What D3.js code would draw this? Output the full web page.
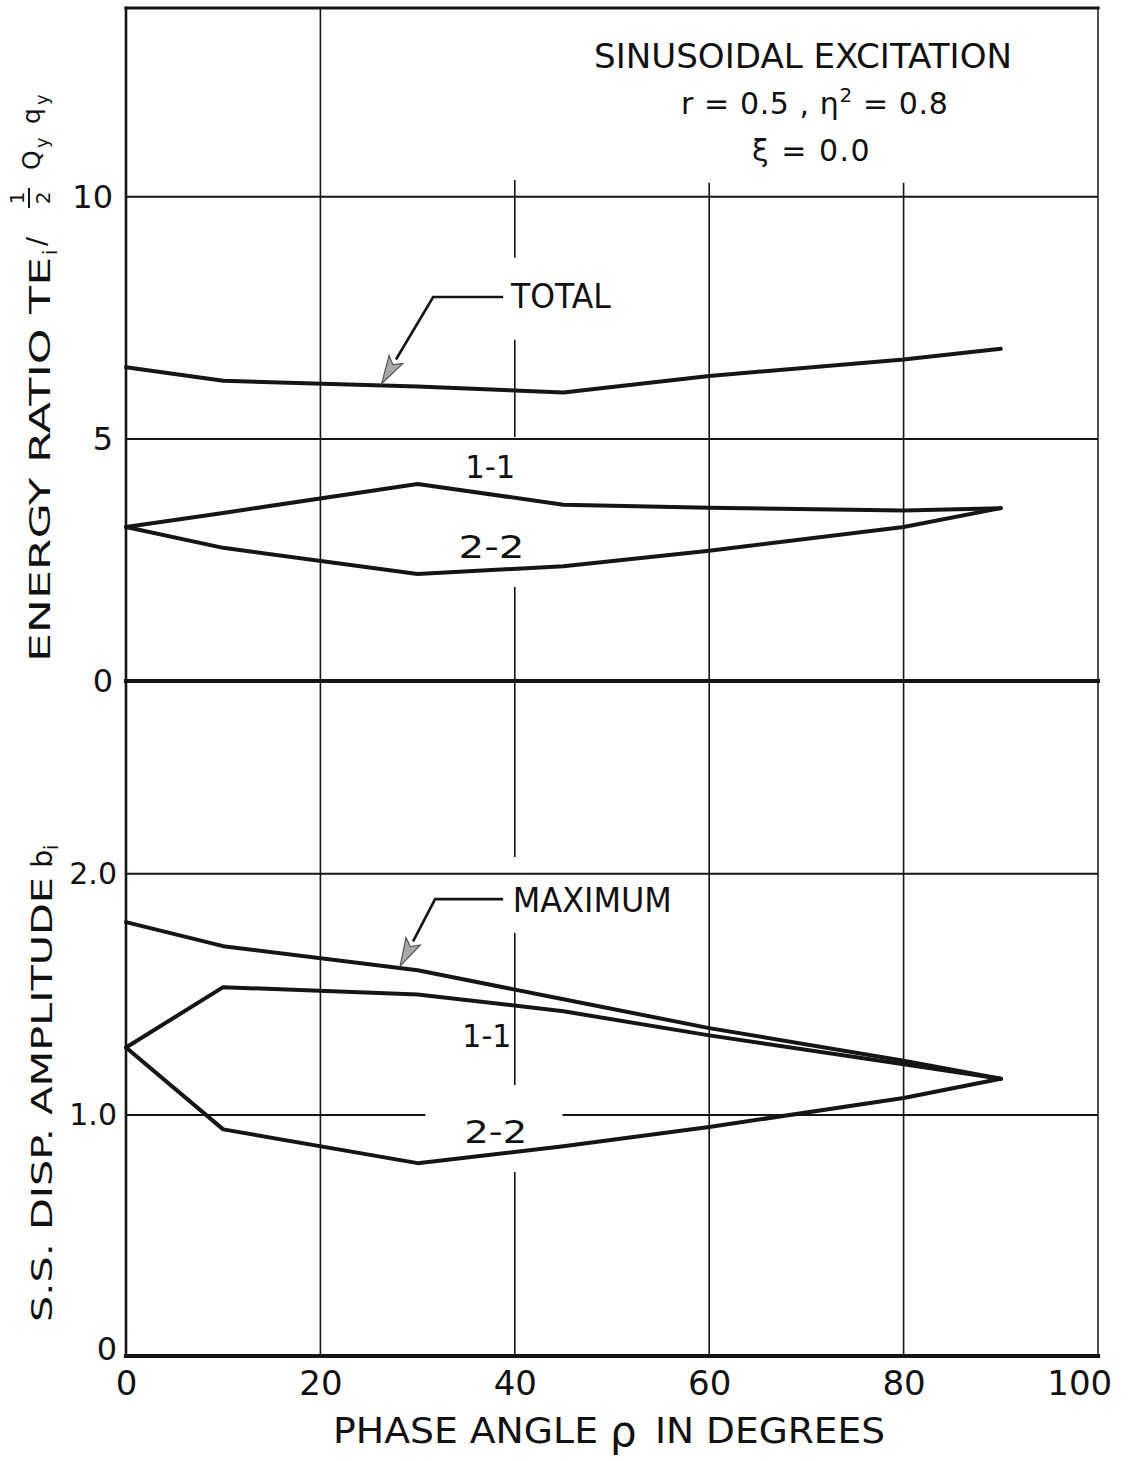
<!DOCTYPE html>
<html>
<head>
<meta charset="utf-8">
<script src="https://cdn.jsdelivr.net/npm/d3@7"></script>
<style>
  body { margin: 0; background: #fff; }
  svg { display: block; }
  text { font-family: "DejaVu Sans", "Noto Sans", sans-serif; fill: #111; }
</style>
</head>
<body>
<svg id="chart" width="1129" height="1461"></svg>
<script>
// Phase angle rho (degrees) at which the responses were computed
const phase = [0, 10, 30, 45, 60, 80, 90];

// Upper panel: energy ratio TE_i / (1/2 Q_y q_y)
const energyTotal = [6.48, 6.20, 6.08, 5.96, 6.30, 6.64, 6.86];
const energy11    = [3.18, 3.47, 4.07, 3.64, 3.58, 3.52, 3.57];
const energy22    = [3.18, 2.75, 2.21, 2.37, 2.69, 3.18, 3.57];

// Lower panel: steady-state displacement amplitude b_i
const ampMax = [1.80, 1.70, 1.60, 1.48, 1.36, 1.225, 1.15];
const amp11  = [1.28, 1.53, 1.50, 1.43, 1.33, 1.21, 1.15];
const amp22  = [1.28, 0.94, 0.80, 0.87, 0.95, 1.07, 1.15];

// Tick values and labels
const phaseTicks  = [0, 20, 40, 60, 80, 100];
const energyTicks = [0, 5, 10];
const ampTicks    = [0, 1, 2];
const ampTickLabels = ["0", "1.0", "2.0"];

const svg = d3.select("#chart");

const x  = d3.scaleLinear().domain([0, 100]).range([126, 1098]);
const yE = d3.scaleLinear().domain([0, 13.9]).range([681, 8]);
const yA = d3.scaleLinear().domain([0, 2.8]).range([1356, 681]);

const ink = "#151515";

// ---- grid lines (broken where labels sit) ----
const grid = svg.append("g");
const vGrid = [
  { v: 20, scale: yE, spans: [[0, 13.9]] },
  { v: 40, scale: yE, spans: [[0, 1.94], [5.04, 7.05], [8.74, 10.35]] },
  { v: 60, scale: yE, spans: [[0, 10.29]] },
  { v: 80, scale: yE, spans: [[0, 10.29]] },
  { v: 20, scale: yA, spans: [[0, 2.8]] },
  { v: 40, scale: yA, spans: [[0, 0.763], [1.124, 1.755], [2.07, 2.8]] },
  { v: 60, scale: yA, spans: [[0, 2.8]] },
  { v: 80, scale: yA, spans: [[0, 2.8]] }
];
vGrid.forEach(g => g.spans.forEach(s => {
  grid.append("line")
    .attr("x1", x(g.v)).attr("x2", x(g.v))
    .attr("y1", g.scale(s[0])).attr("y2", g.scale(s[1]))
    .attr("stroke", ink).attr("stroke-width", 1.6);
}));
const hGrid = [
  { v: 10, scale: yE, spans: [[0, 100]] },
  { v: 5,  scale: yE, spans: [[0, 100]] },
  { v: 2,  scale: yA, spans: [[0, 100]] },
  { v: 1,  scale: yA, spans: [[0, 30.8], [44.9, 100]] }
];
hGrid.forEach(g => g.spans.forEach(s => {
  grid.append("line")
    .attr("x1", x(s[0])).attr("x2", x(s[1]))
    .attr("y1", g.scale(g.v)).attr("y2", g.scale(g.v))
    .attr("stroke", ink).attr("stroke-width", 2);
}));

// ---- frame ----
const frame = svg.append("g").attr("stroke", ink).attr("stroke-linecap", "square");
frame.append("line").attr("x1", x(0)).attr("x2", x(100)).attr("y1", yE(13.9)).attr("y2", yE(13.9)).attr("stroke-width", 3.2);
frame.append("line").attr("x1", x(0)).attr("x2", x(0)).attr("y1", yE(13.9)).attr("y2", yA(0)).attr("stroke-width", 2.6);
frame.append("line").attr("x1", x(100)).attr("x2", x(100)).attr("y1", yE(13.9)).attr("y2", yA(0)).attr("stroke-width", 1.5);
frame.append("line").attr("x1", x(0)).attr("x2", x(100)).attr("y1", yE(0)).attr("y2", yE(0)).attr("stroke-width", 4.2);
frame.append("line").attr("x1", x(0)).attr("x2", x(100)).attr("y1", yA(0)).attr("y2", yA(0)).attr("stroke-width", 4.2);

// ---- axes (labels only) ----
function styleAxis(g, size) {
  g.select(".domain").remove();
  g.selectAll("text").style("font-family", "DejaVu Sans, sans-serif")
    .style("font-size", size + "px").attr("fill", ink);
}
const xAxis = svg.append("g").attr("transform", `translate(0,${yA(0)})`)
  .call(d3.axisBottom(x).tickValues(phaseTicks).tickSize(0).tickPadding(15).tickFormat(d3.format("d")));
styleAxis(xAxis, 34);
xAxis.selectAll(".tick").filter(d => d === 100).select("text").attr("dx", "-0.55em");

const yEAxis = svg.append("g").attr("transform", `translate(${x(0)},0)`)
  .call(d3.axisLeft(yE).tickValues(energyTicks).tickSize(0).tickPadding(13).tickFormat(d3.format("d")));
styleAxis(yEAxis, 32);

const yAAxis = svg.append("g").attr("transform", `translate(${x(0)},0)`)
  .call(d3.axisLeft(yA).tickValues(ampTicks).tickSize(0).tickPadding(9)
    .tickFormat((d, i) => ampTickLabels[i]));
styleAxis(yAAxis, 30);
yAAxis.selectAll(".tick").filter(d => d === 0).select("text").style("font-size", "32px").attr("dy", "0.1em");

// ---- curves ----
function curve(values, yScale) {
  const line = d3.line().x(d => x(d[0])).y(d => yScale(d[1]));
  svg.append("path")
    .datum(phase.map((p, i) => [p, values[i]]))
    .attr("d", line)
    .attr("fill", "none").attr("stroke", ink)
    .attr("stroke-width", 4).attr("stroke-linejoin", "round").attr("stroke-linecap", "round");
}
curve(energyTotal, yE);
curve(energy11, yE);
curve(energy22, yE);
curve(ampMax, yA);
curve(amp11, yA);
curve(amp22, yA);

// ---- leader arrows for TOTAL and MAXIMUM ----
function interp(values, p) {
  return d3.scaleLinear().domain(phase).range(values)(p);
}
function leader(values, yScale, tipPhase, elbow, endPhase) {
  const tip = [x(tipPhase), yScale(interp(values, tipPhase)) - 2];
  const el = [x(elbow[0]), yScale(elbow[1])];
  const en = [x(endPhase), yScale(elbow[1])];
  const dx = tip[0] - el[0], dy = tip[1] - el[1];
  const len = Math.hypot(dx, dy), ux = dx / len, uy = dy / len;
  const headLen = 28, headW = 8;
  const base = [tip[0] - ux * headLen, tip[1] - uy * headLen];
  svg.append("path")
    .attr("d", d3.line()([en, el, base]))
    .attr("fill", "none").attr("stroke", ink).attr("stroke-width", 2.6);
  svg.append("path")
    .attr("d", d3.line()([
      tip,
      [base[0] - uy * headW, base[1] + ux * headW],
      [base[0] + ux * 6, base[1] + uy * 6],
      [base[0] + uy * headW, base[1] - ux * headW]
    ]) + "Z")
    .attr("fill", "#a8a8a8").attr("stroke", "#555").attr("stroke-width", 1.2);
}
leader(energyTotal, yE, 26.3, [31.6, 7.93], 38.8);
leader(ampMax, yA, 28.2, [31.8, 1.895], 38.8);

// ---- curve labels ----
function label(txt, x0, width, baseline, size) {
  svg.append("text").attr("x", x0).attr("y", baseline)
    .attr("font-size", size).attr("textLength", width)
    .attr("lengthAdjust", "spacingAndGlyphs").text(txt);
}
label("TOTAL",   x(39.6), 100, yE(7.71), 34);
label("1-1",     x(34.9), 50,  yE(4.19), 32);
label("2-2",     x(34.2), 66,  yE(2.55), 32);
label("MAXIMUM", x(39.8), 159, yA(1.84), 34);
label("1-1",     x(34.6), 49,  yA(1.28), 32);
label("2-2",     x(34.8), 63,  yA(0.882), 32);

// ---- title block ----
svg.append("text").attr("x", 594).attr("y", 68).attr("font-size", 34)
  .attr("textLength", 418).attr("lengthAdjust", "spacingAndGlyphs")
  .text("SINUSOIDAL EXCITATION");
const t2 = svg.append("text").attr("x", 681).attr("y", 114).attr("font-size", 30)
  .style("letter-spacing", "0.6px");
t2.append("tspan").text("r = 0.5 , η");
t2.append("tspan").attr("font-size", 20).attr("dy", -12).text("2");
t2.append("tspan").attr("dy", 12).text(" = 0.8");
svg.append("text").attr("x", 752).attr("y", 161).attr("font-size", 30)
  .style("letter-spacing", "1.5px").text("ξ = 0.0");

// ---- x axis title ----
svg.append("text").attr("x", 333).attr("y", 1443).attr("font-size", 36)
  .attr("textLength", 265).attr("lengthAdjust", "spacingAndGlyphs").text("PHASE ANGLE");
svg.append("text").attr("x", 610).attr("y", 1446).attr("font-size", 42).text("ρ");
svg.append("text").attr("x", 655).attr("y", 1443).attr("font-size", 36)
  .attr("textLength", 230).attr("lengthAdjust", "spacingAndGlyphs").text("IN DEGREES");

// ---- y axis titles (rotated) ----
const yt = svg.append("g").attr("transform", "rotate(-90)");
// local x = -screen y, local y = screen x
yt.append("text").attr("x", -662).attr("y", 50).attr("font-size", 28)
  .attr("textLength", 405).attr("lengthAdjust", "spacingAndGlyphs").text("ENERGY RATIO TE");
yt.append("text").attr("x", -255).attr("y", 57).attr("font-size", 19).text("i");
yt.append("text").attr("x", -246).attr("y", 46).attr("font-size", 27).text("/");
yt.append("text").attr("x", -198).attr("y", 24).attr("font-size", 20).attr("text-anchor", "middle").text("1");
yt.append("line").attr("x1", -208).attr("x2", -188).attr("y1", 29).attr("y2", 29)
  .attr("stroke", ink).attr("stroke-width", 2);
yt.append("text").attr("x", -198).attr("y", 50).attr("font-size", 20).attr("text-anchor", "middle").text("2");
yt.append("text").attr("x", -170).attr("y", 40).attr("font-size", 25).text("Q");
yt.append("text").attr("x", -148).attr("y", 48).attr("font-size", 18).text("y");
yt.append("text").attr("x", -124).attr("y", 40).attr("font-size", 25).text("q");
yt.append("text").attr("x", -105).attr("y", 48).attr("font-size", 18).text("y");

yt.append("text").attr("x", -1322).attr("y", 52).attr("font-size", 28)
  .attr("textLength", 445).attr("lengthAdjust", "spacingAndGlyphs").text("S.S. DISP. AMPLITUDE");
yt.append("text").attr("x", -868).attr("y", 52).attr("font-size", 29).text("b");
yt.append("text").attr("x", -850).attr("y", 58).attr("font-size", 19).text("i");
</script>
</body>
</html>
